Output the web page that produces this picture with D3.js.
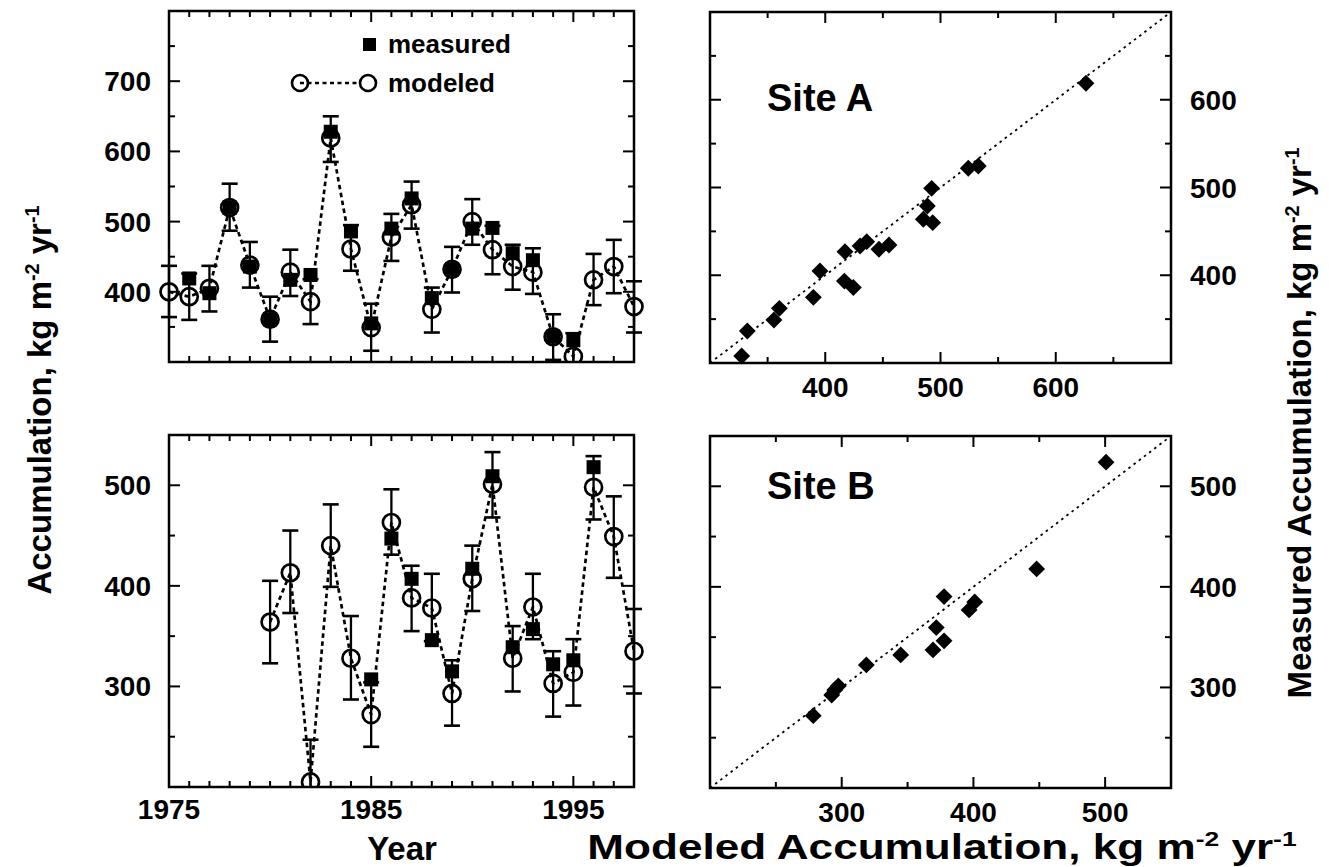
<!DOCTYPE html>
<html><head><meta charset="utf-8">
<script src="https://cdn.jsdelivr.net/npm/d3@7"></script>
<style>
html,body{margin:0;padding:0;background:#fff;}
svg{display:block;}
text{font-family:"Liberation Sans",Arial,Helvetica,sans-serif;font-weight:bold;fill:#000;}
</style></head>
<body>
<svg id="chart" width="1329" height="867"></svg>
<script>
// ---------------- DATA ----------------
const yearsA = [1975,1976,1977,1978,1979,1980,1981,1982,1983,1984,1985,1986,1987,1988,1989,1990,1991,1992,1993,1994,1995,1996,1997,1998];
const modeledA = [400,393,405,520,438,361,428,386,619,461,349,478,524,375,432,500,460,436,428,336,308,417,436,379];
const measuredA = [null,419,398,520,436,361,417,424,628,486,355,490,533,391,432,490,491,455,445,336,331,null,null,null];
const errLoA = [364,360,372,487,406,329,394,354,585,430,316,444,490,342,399,467,425,403,397,303,275,381,398,342];
const errHiA = [437,426,437,554,471,393,460,418,650,495,383,511,557,406,464,532,494,467,462,368,341,454,474,415];

const yearsB = [1980,1981,1982,1983,1984,1985,1986,1987,1988,1989,1990,1991,1992,1993,1994,1995,1996,1997,1998];
const modeledB = [364,413,205,440,328,272,463,388,378,293,407,501,328,379,303,314,498,449,335];
const measuredB = [null,null,null,null,null,307,447,407,346,315,417,509,339,357,322,326,518,null,null];
const errLoB = [323,373,164,399,287,240,431,355,345,261,375,468,295,347,270,281,466,408,293];
const errHiB = [405,455,247,481,370,304,496,420,412,326,440,533,360,412,335,347,529,489,377];

const scatterAx = [327.5,332.4,355.5,360.2,389.7,395.4,416.6,424.4,417.1,430.2,436,446.6,455.3,485.1,493.2,488.6,492.3,524.1,532.8,626.2];
const scatterAy = [308,336.5,349,362.3,374.8,404.8,393.4,386,426.9,433.3,438.3,429.6,434.5,463.8,459.9,478.9,499.1,521.9,524.5,618.8];
const scatterBx = [278.4,292.4,294.7,297.4,318.7,344.8,369.3,377.7,371.8,396.7,401,377.7,448,500.7];
const scatterBy = [271.9,292.5,297.5,301.5,322.4,332.3,337.3,346.3,359.5,377.1,385,390.3,417.8,524];

const yearTickLabels = [1975,1985,1995];
const tsTicksA = [400,500,600,700];
const tsTicksB = [300,400,500];
const scTicksA = [400,500,600];
const scTicksB = [300,400,500];

// ---------------- LAYOUT ----------------
const svg = d3.select("#chart");
const L = {x0:169, x1:634}, R = {x0:710, x1:1171};
const T = {y0:11, y1:362}, B = {y0:435, y1:787};
const FS_TICK = 28;

function frame(g, xs, ys, xMinor, xMajor, yMinor, yMajor){
  const [a,b] = xs.range(), [c,d] = ys.range();
  g.append("rect").attr("x",a).attr("y",d).attr("width",b-a).attr("height",c-d)
    .attr("fill","none").attr("stroke","#000").attr("stroke-width",2.5);
  const tk = (x1,y1,x2,y2)=>g.append("line").attr("x1",x1).attr("y1",y1).attr("x2",x2).attr("y2",y2).attr("stroke","#000").attr("stroke-width",2);
  xMinor.forEach(v=>{const x=xs(v), len=xMajor.includes(v)?11:6; tk(x,c,x,c-len); tk(x,d,x,d+len);});
  yMinor.forEach(v=>{const y=ys(v), len=yMajor.includes(v)?11:6; tk(a,y,a+len,y); tk(b,y,b-len,y);});
}

// ---------- time series panels ----------
function tsPanel(years, mod, meas, lo, hi, yDom, yTop, yBot, yLabels, yMinorVals){
  const g = svg.append("g");
  const x = d3.scaleLinear().domain([1975,1998]).range([L.x0,L.x1]);
  const y = d3.scaleLinear().domain(yDom).range([yBot,yTop]);
  const yrMinor = d3.range(1976,1998);
  frame(g, x, y, yrMinor, [1985,1995], yMinorVals, yLabels);
  const clip = "clip"+yTop;
  svg.append("clipPath").attr("id",clip).append("rect").attr("x",L.x0-20).attr("y",yTop).attr("width",L.x1-L.x0+40).attr("height",yBot-yTop);
  const dg = g.append("g").attr("clip-path",`url(#${clip})`);
  dg.append("path").datum(years.map((yr,i)=>[yr,mod[i]]))
    .attr("d", d3.line().x(d=>x(d[0])).y(d=>y(d[1])))
    .attr("fill","none").attr("stroke","#000").attr("stroke-width",2.7).attr("stroke-dasharray","4.5,3.5");
  years.forEach((yr,i)=>{
    const cx = x(yr);
    dg.append("line").attr("x1",cx).attr("x2",cx).attr("y1",y(lo[i])).attr("y2",y(hi[i])).attr("stroke","#000").attr("stroke-width",2.3);
    [lo[i],hi[i]].forEach(v=>dg.append("line").attr("x1",cx-8).attr("x2",cx+8).attr("y1",y(v)).attr("y2",y(v)).attr("stroke","#000").attr("stroke-width",2.6));
  });
  years.forEach((yr,i)=>{ if(meas[i]==null) return;
    dg.append("rect").attr("x",x(yr)-7).attr("y",y(meas[i])-7).attr("width",14).attr("height",14).attr("fill","#000");
  });
  years.forEach((yr,i)=>{
    dg.append("circle").attr("cx",x(yr)).attr("cy",y(mod[i])).attr("r",8.5).attr("fill","none").attr("stroke","#000").attr("stroke-width",2.7);
  });
  yLabels.forEach(v=>g.append("text").attr("x",151).attr("y",y(v)+10).attr("text-anchor","end").attr("font-size",FS_TICK).text(v));
  return {x,y};
}

const panelTop = tsPanel(yearsA, modeledA, measuredA, errLoA, errHiA, [300,800], T.y0, T.y1, tsTicksA, d3.range(350,800,50));
const panelBot = tsPanel(yearsB, modeledB, measuredB, errLoB, errHiB, [200,550], B.y0, B.y1, tsTicksB, d3.range(250,550,50));
yearTickLabels.forEach(v=>svg.append("text").attr("x",panelBot.x(v)).attr("y",B.y1+32).attr("text-anchor","middle").attr("font-size",FS_TICK).text(v));

// legend
{
  const g = svg.append("g");
  g.append("rect").attr("x",363).attr("y",38).attr("width",13).attr("height",13).attr("fill","#000");
  g.append("text").attr("x",388).attr("y",53).attr("font-size",26).text("measured");
  g.append("line").attr("x1",300).attr("x2",368).attr("y1",83).attr("y2",83).attr("stroke","#000").attr("stroke-width",2.4).attr("stroke-dasharray","4,3.5");
  g.append("circle").attr("cx",300).attr("cy",83).attr("r",8).attr("fill","none").attr("stroke","#000").attr("stroke-width",2.6);
  g.append("circle").attr("cx",368).attr("cy",83).attr("r",8).attr("fill","#fff").attr("stroke","#000").attr("stroke-width",2.6);
  g.append("text").attr("x",388).attr("y",92).attr("font-size",26).text("modeled");
}

// ---------- scatter panels ----------
function scPanel(xsV, ysV, dom, yTop, yBot, labels, minorVals, title, titleY){
  const g = svg.append("g");
  const x = d3.scaleLinear().domain(dom).range([R.x0,R.x1]);
  const y = d3.scaleLinear().domain(dom).range([yBot,yTop]);
  frame(g, x, y, minorVals, labels, minorVals, labels);
  g.append("line").attr("x1",x(dom[0])).attr("y1",y(dom[0])).attr("x2",x(dom[1])).attr("y2",y(dom[1]))
    .attr("stroke","#000").attr("stroke-width",1.8).attr("stroke-dasharray","2.5,4");
  const sym = d3.symbol().type(d3.symbolDiamond2).size(2*9.5*9.5);
  xsV.forEach((v,i)=>g.append("path").attr("d",sym).attr("transform",`translate(${x(v)},${y(ysV[i])})`).attr("fill","#000"));
  labels.forEach(v=>{
    g.append("text").attr("x",x(v)).attr("y",yBot+34).attr("text-anchor","middle").attr("font-size",FS_TICK).text(v);
    g.append("text").attr("x",1190).attr("y",y(v)+10).attr("text-anchor","start").attr("font-size",FS_TICK).text(v);
  });
  g.append("text").attr("x",767).attr("y",titleY).attr("font-size",38).text(title);
  return {x,y};
}
scPanel(scatterAx, scatterAy, [300,700], T.y0+1, T.y1+1, scTicksA, d3.range(350,700,50), "Site A", 111);
scPanel(scatterBx, scatterBy, [200,550], B.y0+1, B.y1+1, scTicksB, d3.range(250,550,50), "Site B", 499);

// ---------- axis titles ----------
function unitText(t, pre){
  t.append("tspan").text(pre + "Accumulation, kg m");
  t.append("tspan").attr("dy","-0.6em").attr("font-size","0.6em").text("-2");
  t.append("tspan").attr("dy","0.36em").text(" yr");
  t.append("tspan").attr("dy","-0.6em").attr("font-size","0.6em").text("-1");
}
unitText(svg.append("text").attr("transform","translate(51,400) rotate(-90)").attr("text-anchor","middle").attr("font-size",33), "");
unitText(svg.append("text").attr("transform","translate(1311,423) rotate(-90)").attr("text-anchor","middle").attr("font-size",33), "Measured ");
svg.append("text").attr("x",402).attr("y",860).attr("text-anchor","middle").attr("font-size",33).text("Year");
unitText(svg.append("text").attr("transform","translate(942,859) scale(1.26,1)").attr("text-anchor","middle").attr("font-size",35), "Modeled ");
</script>
</body></html>
